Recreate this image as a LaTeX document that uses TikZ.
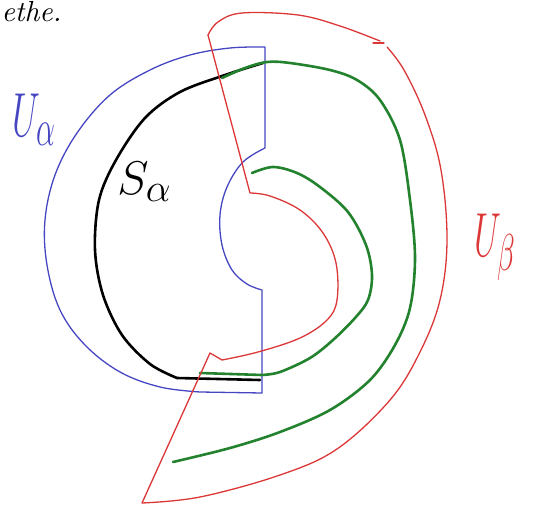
\documentclass[tikz,border=0pt]{standalone}
\begin{document}
\begin{tikzpicture}[x=1pt,y=-1pt,
  thinpen/.style={line width=1.3pt,line cap=round,line join=round},
  thickpen/.style={line width=2.6pt,line cap=round,line join=round},
  lbl/.style={inner sep=0pt,font=\Huge}]
\definecolor{pblue}{RGB}{70,70,195}
\definecolor{pred}{RGB}{220,55,55}
\definecolor{pgreen}{RGB}{35,130,45}
\useasboundingbox (0,0) rectangle (533,511);
% partial text top-left
\node[anchor=base west,inner sep=0pt,font=\itshape,scale=2.9] (txt) at (1,22) {ethe.};
% blue U_alpha
\draw[pblue,thinpen] (265,148) -- (265,47)
  plot[smooth,tension=0.6] coordinates {(265,47) (230,48) (190,55) (150,70) (110,95) (77,133) (55,175) (45,220) (47,265) (60,310) (85,345) (120,372) (160,387) (200,392)}
  -- (262,393) -- (262,290)
  plot[smooth,tension=0.6] coordinates {(262,290) (247,284) (232,270) (222,245) (220,215) (227,187) (243,162) (265,148)};
% black S_alpha
\draw[black,thickpen] plot[smooth,tension=0.55] coordinates {(263,63) (225,75) (180,92) (145,118) (116,160) (99,200) (95,250) (103,295) (122,335) (150,364) (177,378)} -- (260,380);
% green outer
\draw[pgreen,thickpen] plot[smooth,tension=0.55] coordinates {(222,78) (245,68) (267,62) (290,63) (330,70) (357,80) (380,100) (400,140) (410,200) (415,258) (410,308) (395,345) (370,380) (330,410) (280,432) (230,448) (173,462)};
% green inner
\draw[pgreen,thickpen] (200,373) -- (262,375)
  plot[smooth,tension=0.55] coordinates {(262,375) (280,372) (310,358) (333,340) (355,318) (368,300) (372,275) (366,245) (348,212) (320,187) (297,173) (273,167) (252,173)};
% red U_beta
\draw[pred,thinpen] (208,35) -- (250,193)
  plot[smooth,tension=0.6] coordinates {(250,193) (270,196) (300,210) (323,233) (336,263) (337,300) (327,320) (300,338) (258,352) (222,360)}
  -- (210,353) -- (142,503)
  plot[smooth,tension=0.6] coordinates {(142,503) (200,497) (280,475) (337,449) (390,400) (420,352) (440,300) (447,240) (441,170) (425,115) (404,70) (387,47)};
\draw[pred,thinpen] plot[smooth,tension=0.6] coordinates {(380,41) (340,26) (298,15) (242,13) (218,22) (208,35)};
\draw[pred,thinpen] (373,43) -- (384,43);
% labels
\node[lbl,pblue,anchor=north west,xscale=1.45,yscale=2.5] (ua) at (12,93) {$U_\alpha$};
\node[lbl,black,anchor=north west,scale=1.9] (sa) at (117,162) {$S_\alpha$};
\node[lbl,pred,anchor=north west,xscale=1.4,yscale=2.5] (ub) at (474,213) {$U_\beta$};
\end{tikzpicture}
\end{document}
